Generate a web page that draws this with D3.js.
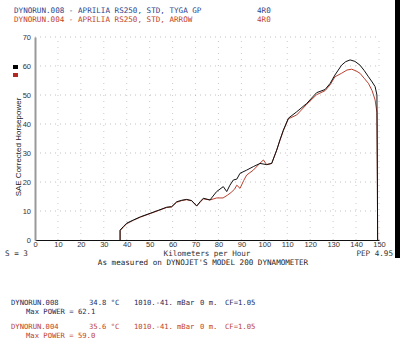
<!DOCTYPE html>
<html>
<head>
<meta charset="utf-8">
<script src="https://cdn.jsdelivr.net/npm/d3@7"></script>
<style>
  body { margin: 0; background: #fff; }
  text { font-family: "DejaVu Sans Mono", monospace; }
</style>
</head>
<body>
<div id="chart-div"></div>
<script>
// run 008 (black) and run 004 (red) - km/h vs SAE hp
const speed008 = [37.1,37.1,38.5,40,42.9,46,50.2,54,57.4,59.6,61.8,64,66.1,68.3,70.5,72,73.4,76.3,79.2,82.1,83.6,85,86.5,88,89.4,92.3,95.2,98.1,101,103.2,105.4,106.8,108.3,110.5,114.1,118.5,122.8,126.5,128.7,130.8,133.7,135.5,137.4,139.5,141.7,143.5,145.4,147,148.3,149.1,149.3,149.4]
const hp008 = [0,3.4,4.6,5.8,6.9,8,9.2,10.3,11.3,11.5,13.2,13.7,14.0,13.6,11.7,13.2,14.4,13.8,16.7,18.4,16.7,18.9,20.7,21,23,24.1,25.3,26.4,26,26.4,31,34.5,37.9,42,44.2,47.1,50.8,51.9,54,56.9,60.3,61.5,62.1,61.6,60.3,58.5,56.3,54.5,52.9,50,20,0]

const speed004 = [37.1,37.1,38.5,40,42.9,46,50.2,54,57.4,59.6,61.8,64,66.1,68.3,70.5,72,73.4,76.3,78,79.2,82,84,85.5,87,88,89.4,91,92.3,95.2,98,99.6,101,103.2,105.4,106.8,108.3,110.5,114.1,118.5,122.8,126.5,128.7,130.8,133.7,136,138.1,140,141.7,143.5,145.4,147,148.3,149.1,149.3,149.4]
const hp004 = [0,3.2,4.4,5.6,6.8,7.9,9.1,10.2,11.2,11.4,13.0,13.6,13.9,13.5,11.8,13.0,14.2,13.8,14.2,14.5,14.5,15.5,16.4,17.5,18.9,17.8,20.5,22.4,24.1,26.4,27.6,26,26.4,31,34.3,37.7,41.8,43.1,46.8,50.1,51.5,53.5,56.3,57.5,58.6,58.9,58.3,57.5,55.8,54,51.5,48.3,44,20,0]

const xTicks = [0,10,20,30,40,50,60,70,80,90,100,110,120,130,140,150]
const yTicks = [0,10,20,30,40,50,60,70]

const headerLines = ["DYNORUN.008 - APRILIA RS250, STD, TYGA GP", "DYNORUN.004 - APRILIA RS250, STD, ARROW"]
const runNames = ["DYNORUN.008", "DYNORUN.004"]
const runTemps = ["34.8 °C", "35.6 °C"]
const runMaxPower = ["62.1", "59.0"]

//**********************************************************************************************
//                                      CONSTANTS
//**********************************************************************************************
const WIDTH = 400
const HEIGHT = 353
const X0 = 35, X1 = 379
const Y0 = 240, Y1 = 37
const BLUE = "#2b3f8c"
const RED = "#c0432b"
const CURVE_RED = "#b8402e"
const FS = "7.6px"
const FS_SMALL = "7.2px"

const svg = d3.select("#chart-div").append("svg")
  .attr("width", WIDTH)
  .attr("height", HEIGHT)
  .style("background-color", "#fff")

const x_scale = d3.scaleLinear().domain([0, 150]).range([X0, X1])
const y_scale = d3.scaleLinear().domain([0, 70]).range([Y0, Y1])

// dotted grid
svg.append("g").selectAll("line").data(yTicks.slice(1))
  .enter().append("line")
  .attr("x1", X0).attr("x2", X1)
  .attr("y1", d => y_scale(d)).attr("y2", d => y_scale(d))
  .style("stroke", "#aaa").style("stroke-width", 1)
  .style("stroke-dasharray", "1,4").style("opacity", 0.7)
svg.append("g").selectAll("line").data(xTicks.slice(1))
  .enter().append("line")
  .attr("x1", d => x_scale(d)).attr("x2", d => x_scale(d))
  .attr("y1", Y0).attr("y2", Y1)
  .style("stroke", "#aaa").style("stroke-width", 1)
  .style("stroke-dasharray", "1,5").style("opacity", 0.6)

// axes
const xAxis = d3.axisBottom(x_scale).tickValues(xTicks).tickSize(0).tickPadding(2)
const yAxis = d3.axisLeft(y_scale).tickValues(yTicks).tickSize(0).tickPadding(4)

const gx = svg.append("g").attr("transform", `translate(0,${Y0})`).call(xAxis)
gx.select(".domain").style("stroke", "#111").style("stroke-width", 1.2)
gx.selectAll("text").style("font-family", "Liberation Sans, sans-serif")
  .style("font-size", "7.5px").style("fill", "#333")

const gy = svg.append("g").attr("transform", `translate(${X0},0)`).call(yAxis)
gy.select(".domain").style("stroke", "#999").style("stroke-width", 2)
gy.selectAll("text").style("font-family", "Liberation Sans, sans-serif")
  .style("font-size", "7.5px").style("fill", "#333")

// curves
const line = d3.line().x(d => x_scale(d[0])).y(d => y_scale(d[1]))
const run008 = speed008.map((s, i) => [s, hp008[i]])
const run004 = speed004.map((s, i) => [s, hp004[i]])

svg.append("path").datum(run004).attr("d", line)
  .style("fill", "none").style("stroke", CURVE_RED).style("stroke-width", 1)
svg.append("path").datum(run008).attr("d", line)
  .style("fill", "none").style("stroke", "#111").style("stroke-width", 1)

// header
svg.selectAll(".hdr").data(headerLines).enter().append("text")
  .attr("x", 14).attr("y", (d, i) => 13 + i * 8.6)
  .style("font-size", FS)
  .style("fill", (d, i) => i == 0 ? BLUE : RED)
  .text(d => d)
svg.selectAll(".hdr2").data(headerLines).enter().append("text")
  .attr("x", 257).attr("y", (d, i) => 13 + i * 8.6)
  .style("font-size", FS)
  .style("fill", (d, i) => i == 0 ? BLUE : RED)
  .text("4R0")

// legend squares
svg.append("rect").attr("x", 13).attr("y", 65).attr("width", 5).attr("height", 4).style("fill", "#000")
svg.append("rect").attr("x", 13).attr("y", 73).attr("width", 5).attr("height", 4).style("fill", "#b02a22")

// y label
svg.append("text")
  .attr("transform", "translate(21,147) rotate(-90)")
  .attr("text-anchor", "middle")
  .style("font-family", "Liberation Sans, sans-serif")
  .style("font-size", "8px").style("fill", "#222")
  .text("SAE Corrected Horsepower")

// bottom labels
svg.append("text").attr("x", 5).attr("y", 256).style("font-size", FS).style("fill", "#333").text("S = 3")
svg.append("text").attr("x", 207).attr("y", 256).attr("text-anchor", "middle")
  .style("font-size", FS).style("fill", "#333").text("Kilometers per Hour")
svg.append("text").attr("x", 393).attr("y", 256).attr("text-anchor", "end")
  .style("font-size", FS).style("fill", "#333").text("PEP 4.95")
svg.append("text").attr("x", 203).attr("y", 265).attr("text-anchor", "middle")
  .style("font-size", FS).style("fill", "#222").text("As measured on DYNOJET'S MODEL 200 DYNAMOMETER")

// right black edge of the scan
svg.append("rect").attr("x", 395).attr("y", 0).attr("width", 5).attr("height", 258).style("fill", "#000")

// run info
runNames.forEach(function(name, i){
  const yb = 305 + i * 24
  const col = i == 0 ? "#1e2a5a" : RED
  const g = svg.append("g").style("font-size", FS_SMALL).style("fill", col)
  g.append("text").attr("x", 11).attr("y", yb).text(name)
  g.append("text").attr("x", 89).attr("y", yb).text(runTemps[i])
  g.append("text").attr("x", 134).attr("y", yb).text("1010.-41.")
  g.append("text").attr("x", 177).attr("y", yb).text("mBar")
  g.append("text").attr("x", 200).attr("y", yb).text("0 m.")
  g.append("text").attr("x", 225).attr("y", yb).text("CF=1.05")
  g.append("text").attr("x", 26).attr("y", yb + 9).text("Max POWER = " + runMaxPower[i])
})
</script>
</body>
</html>
